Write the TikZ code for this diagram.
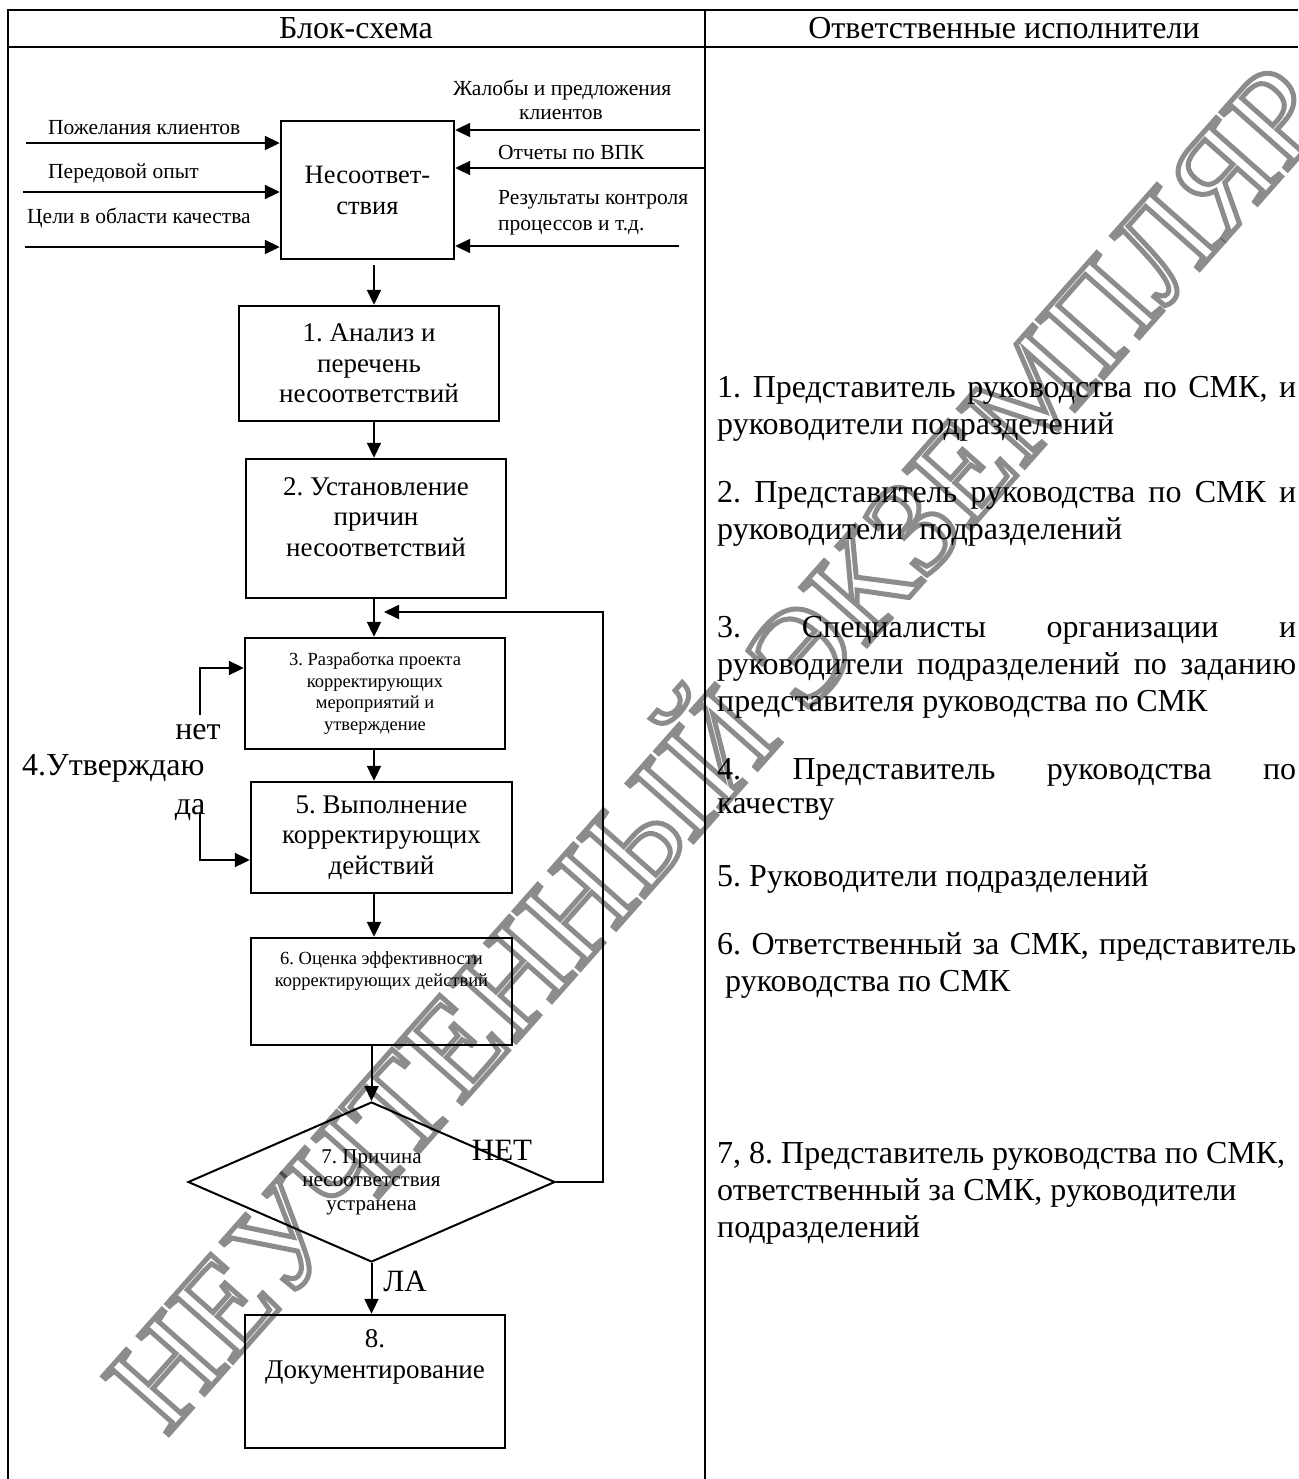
\documentclass[tikz,border=0pt]{standalone}
\usepackage{fontspec}
\setmainfont{Liberation Serif}
\usetikzlibrary{arrows.meta,shapes.geometric}
\frenchspacing
\begin{document}
\begin{tikzpicture}[x=1pt,y=-1pt,
  frame/.style={line width=2.4pt},
  blk/.style={draw, line width=2.4pt, inner sep=0pt, align=center},
  arr/.style={line width=2pt, -{Triangle[length=15pt,width=14pt]}},
  loopln/.style={line width=1.8pt, -{Triangle[length=15pt,width=14pt]}},
  ftbig/.style={inner sep=0pt, align=center, font=\fontsize{32}{37}\selectfont},
  ftbox/.style={inner sep=0pt, align=center, font=\fontsize{27}{30.5}\selectfont},
  ftsmall/.style={inner sep=0pt, align=center, font=\fontsize{18.5}{21.5}\selectfont},
  ftdia/.style={inner sep=0pt, align=center, font=\fontsize{21}{23.5}\selectfont},
  ftlbl/.style={inner sep=0pt, align=center, font=\fontsize{21.5}{25}\selectfont},
  rcol/.style={inner sep=0pt, anchor=west, font=\fontsize{32}{37}\selectfont},
]
\useasboundingbox (0,0) rectangle (1298,1479);
\fill[white] (0,0) rectangle (1298,1479);

% table frame
\draw[frame] (8,10) -- (1298,10);
\draw[frame] (8,47) -- (1298,47);
\draw[frame] (8,9) -- (8,1479);
\draw[frame] (705,9) -- (705,1479);

\node[ftbig] (h1) at (356,28) {Блок-схема};
\node[ftbig] (h2) at (1004,28) {Ответственные исполнители};

% boxes
\node[blk, minimum width=173pt, minimum height=138pt, font=\fontsize{26.5}{31}\selectfont] (nc) at (367.5,190) {Несоответ-\\ствия};
\node[blk, ftbox, draw, minimum width=260pt, minimum height=115pt] (b1) at (369,363.5) {1. Анализ и\\перечень\\несоответствий};
\node[blk, minimum width=260pt, minimum height=139pt] (b2) at (376,528.5) {};
\node[ftbox] (b2t) at (376,517) {2. Установление\\причин\\несоответствий};
\node[blk, ftsmall, draw, minimum width=260pt, minimum height=111pt] (b3) at (375,693.5) {3. Разработка проекта\\корректирующих\\мероприятий и\\утверждение};
\node[blk, ftbox, draw, minimum width=261pt, minimum height=111pt] (b5) at (381.5,837.5) {5. Выполнение\\корректирующих\\действий};
\node[blk, minimum width=261pt, minimum height=107pt] (b6) at (381.5,991.5) {};
\node[ftsmall] (b6t) at (381.5,971) {6. Оценка эффективности\\корректирующих действий};
\node[diamond, draw, line width=2pt, inner sep=0pt, aspect=2.3, minimum width=367pt, minimum height=160pt, ftdia] (d) at (371.5,1182) {7. Причина\\несоответствия\\устранена};
\node[blk, minimum width=260pt, minimum height=133pt] (b8) at (375,1381.5) {};
\node[ftbox] (b8t) at (375,1357) {8.\\Документирование};

% inputs left
\coordinate (i1) at (26,143);
\coordinate (i2) at (23,192);
\coordinate (i3) at (25,247);
\draw[arr] (i1) -- (i1 -| nc.west);
\draw[arr] (i2) -- (i2 -| nc.west);
\draw[arr] (i3) -- (i3 -| nc.west);
\node[ftlbl, anchor=west] (l1) at (48,128) {Пожелания клиентов};
\node[ftlbl, anchor=west] (l2) at (48,173) {Передовой опыт};
\node[ftlbl, anchor=west] (l3) at (27,218) {Цели в области качества};

% inputs right
\coordinate (r1) at (700,130);
\coordinate (r2) at (704,168);
\coordinate (r3) at (679,246);
\draw[arr] (r1) -- (r1 -| nc.east);
\draw[arr] (r2) -- (r2 -| nc.east);
\draw[arr] (r3) -- (r3 -| nc.east);
\node[ftlbl, anchor=west] (rl1) at (453,90) {Жалобы и предложения};
\node[ftlbl] (rl1b) at (561,115) {клиентов};
\node[ftlbl, anchor=west] (rl2) at (498,152) {Отчеты по ВПК};
\node[ftlbl, anchor=west] (rl3) at (498,200) {Результаты контроля};
\node[ftlbl, anchor=west] (rl3b) at (498,228) {процессов и т.д.};

% main flow
\coordinate (ax) at (374,0);
\draw[arr] ([yshift=-5pt]nc.south -| ax) -- (b1.north -| ax);
\draw[arr] (b1.south -| ax) -- (b2.north -| ax);
\draw[arr] (b2.south -| ax) -- (b3.north -| ax);
\draw[arr] (b3.south -| ax) -- (b5.north -| ax);
\draw[arr] (b5.south -| ax) -- (b6.north -| ax);
\draw[arr] (b6.south -| d.north) -- (d.north);
\draw[arr] (d.south) -- (d.south |- b8.north);

% loop back
\coordinate (lp) at (603,612);
\coordinate (lpe) at (384,612);
\draw[loopln] (d.east) -- (d.east -| lp) -- (lp) -- (lpe);

% approval branches
\coordinate (n0) at (200,715);
\coordinate (n1) at (200,668);
\draw[arr] (n0) -- (n1) -- (n1 -| b3.west);
\coordinate (y0) at (200,813);
\coordinate (y1) at (200,860);
\draw[arr] (y0) -- (y1) -- (y1 -| b5.west);
\node[ftbig] (net) at (198,732) {нет};
\node[ftbig, anchor=west] (utv) at (22,768) {4.Утверждаю};
\node[ftbig] (da) at (190,810) {да};
\node[ftbig, font=\fontsize{31}{36}\selectfont] (NET) at (502,1150) {НЕТ};
\node[ftbig, font=\fontsize{31}{36}\selectfont] (LA) at (405,1281) {ЛА};

% right column
\node[rcol] (t1a) at (717,390) {\makebox[579pt][s]{1. Представитель руководства по СМК, и}};
\node[rcol] (t1b) at (717,427) {руководители подразделений};
\node[rcol] (t2a) at (717,495) {\makebox[579pt][s]{2. Представитель руководства по СМК и}};
\node[rcol] (t2b) at (717,532) {руководители\ \ подразделений};
\node[rcol] (t3a) at (717,630) {\makebox[579pt][s]{3. Специалисты организации и}};
\node[rcol] (t3b) at (717,667) {\makebox[579pt][s]{руководители подразделений по заданию}};
\node[rcol] (t3c) at (717,704) {представителя руководства по СМК};
\node[rcol] (t4a) at (717,772) {\makebox[579pt][s]{4. Представитель руководства по}};
\node[rcol] (t4b) at (717,809) {качеству};
\node[rcol] (t5) at (717,879) {5. Руководители подразделений};
\node[rcol] (t6a) at (717,947) {\makebox[579pt][s]{6. Ответственный за СМК, представитель}};
\node[rcol] (t6b) at (725,984) {руководства по СМК};
\node[rcol] (t7a) at (717,1156) {7, 8. Представитель руководства по СМК,};
\node[rcol] (t7b) at (717,1193) {ответственный за СМК, руководители};
\node[rcol] (t7c) at (717,1230) {подразделений};

% watermark (outlined grey letters)
\node[rotate=48.5, inner sep=0pt, opacity=0.45, font=\fontsize{134}{134}\selectfont] (wm) at (708,740)
  {\special{pdf:literal direct 1 Tr 5 w}НЕУЧТЕННЫЙ ЭКЗЕМПЛЯР\special{pdf:literal direct 0 Tr 1 w}};
\end{tikzpicture}
\end{document}
